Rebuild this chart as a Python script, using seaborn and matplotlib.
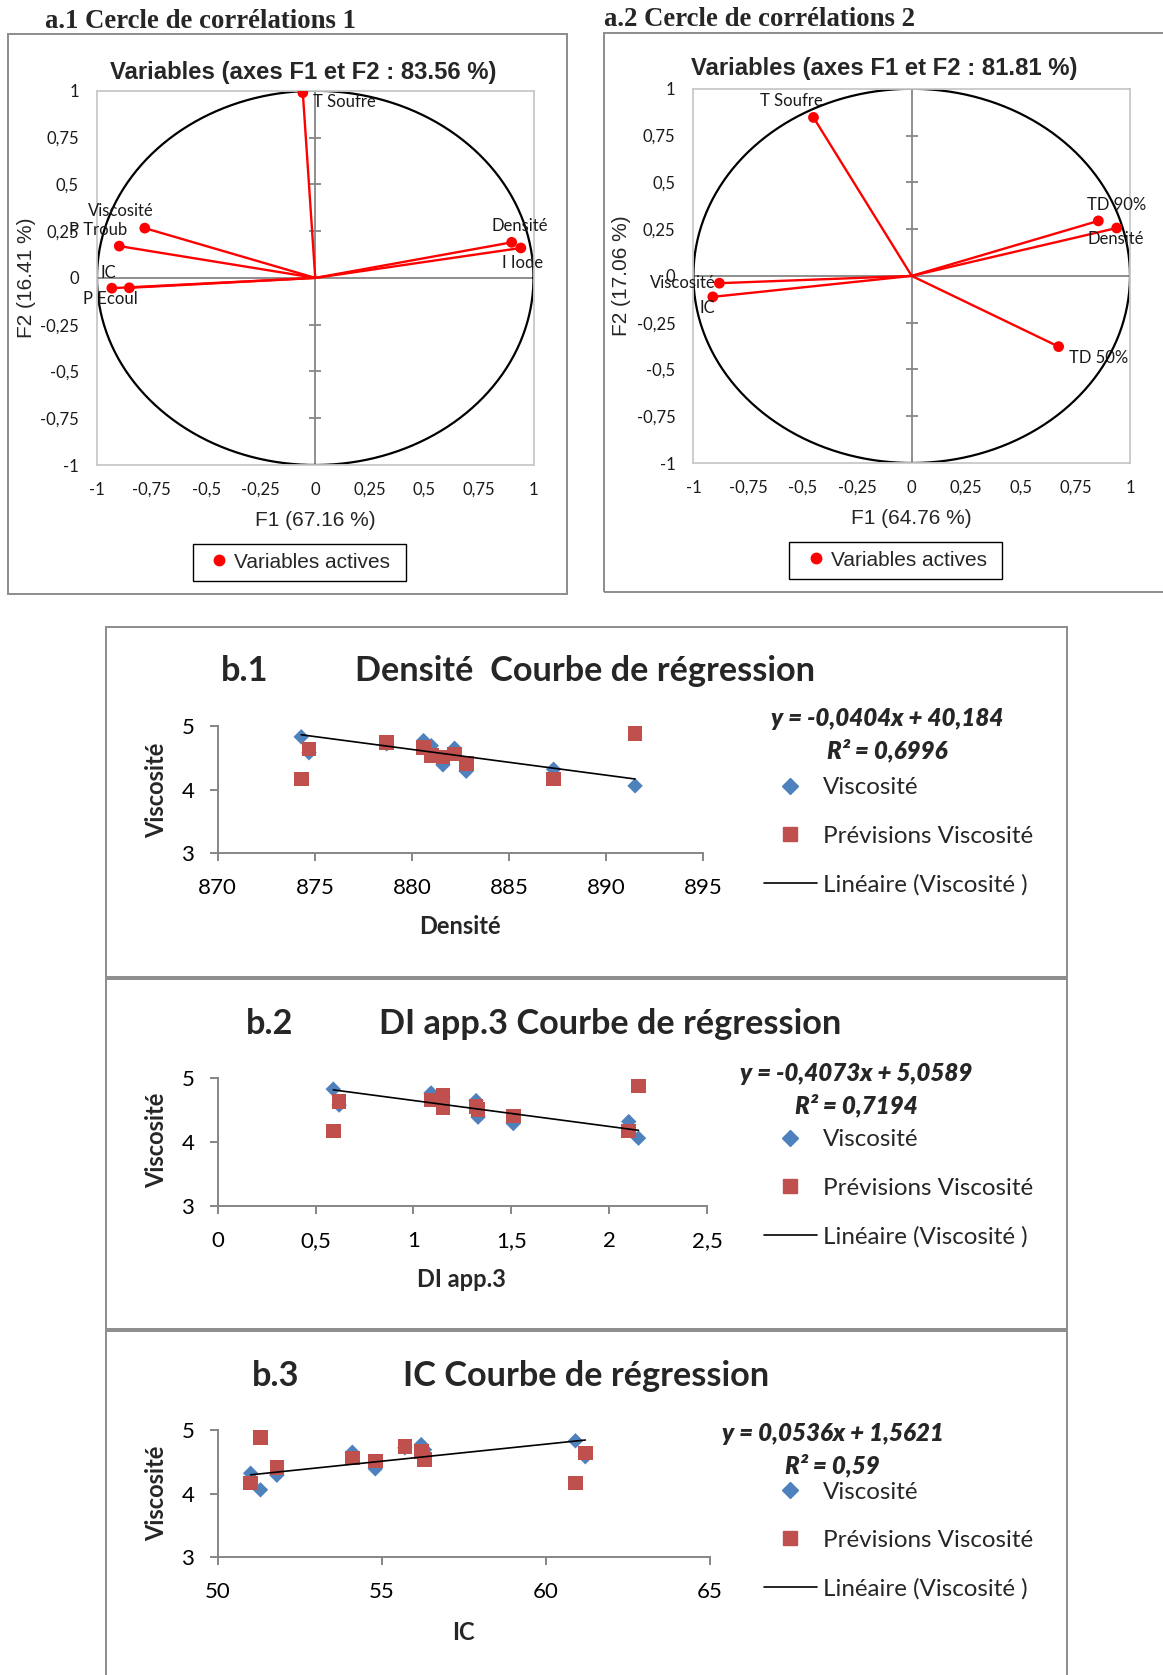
import numpy as np
import matplotlib
matplotlib.use("Agg")
import matplotlib.pyplot as plt
from matplotlib.lines import Line2D
from matplotlib.patches import Rectangle
import seaborn as sns

# ---------------- data ----------------
# Correlation circle 1 (F1 x F2)
c1_vars = ["T Soufre", "Viscosité", "P Troub", "IC", "P Ecoul", "Densité", "I Iode"]
c1_f1 = [-0.057, -0.781, -0.898, -0.932, -0.852, 0.900, 0.942]
c1_f2 = [0.990, 0.266, 0.170, -0.055, -0.053, 0.190, 0.160]

# Correlation circle 2 (F1 x F2)
c2_vars = ["T Soufre", "TD 90%", "Densité", "Viscosité", "IC", "TD 50%"]
c2_f1 = [-0.450, 0.855, 0.939, -0.881, -0.911, 0.673]
c2_f2 = [0.847, 0.294, 0.256, -0.039, -0.112, -0.378]

# Samples used in the regressions
densite = [874.3, 874.7, 878.7, 880.6, 881.0, 881.6, 882.2, 882.8, 887.3, 891.5]
di_app3 = [0.59, 0.62, 1.15, 1.09, 1.15, 1.33, 1.32, 1.51, 2.10, 2.15]
ic = [60.9, 61.2, 55.7, 56.2, 56.3, 54.8, 54.1, 51.8, 51.0, 51.3]
viscosite = [4.83, 4.58, 4.72, 4.77, 4.69, 4.39, 4.65, 4.29, 4.32, 4.06]
previsions = [4.17, 4.64, 4.74, 4.66, 4.54, 4.51, 4.56, 4.41, 4.17, 4.88]

# Linear trendlines (slope, intercept, R²)
fit_densite = (-0.0404, 40.184, 0.6996)
fit_di = (-0.4073, 5.0589, 0.7194)
fit_ic = (0.0536, 1.5621, 0.59)

circle_ticks = [-1, -0.75, -0.5, -0.25, 0, 0.25, 0.5, 0.75, 1]
densite_ticks = [870, 875, 880, 885, 890, 895]
di_ticks = [0, 0.5, 1, 1.5, 2, 2.5]
ic_ticks = [50, 55, 60, 65]
visc_ticks = [3, 4, 5]

# ---------------- style ----------------
sns.set_style("white")
plt.rcParams["font.family"] = ["Lato", "DejaVu Sans"]
ARIAL = ["Liberation Sans", "DejaVu Sans"]
TIMES = ["Liberation Serif", "DejaVu Serif"]
BLUE = "#4F81BD"
RED_SQ = "#C0504D"
FRAME = "#8C8C8C"
AXIS_GRAY = "#868686"

W, H = 1163, 1675
fig = plt.figure(figsize=(W / 100, H / 100), dpi=100)
fig.patch.set_facecolor("white")


def fx(x):
    return x / W


def fy(y):
    return 1 - y / H


def add_ax(x0, y0, x1, y1):
    return fig.add_axes([x0 / W, 1 - y1 / H, (x1 - x0) / W, (y1 - y0) / H])


def box(x0, y0, x1, y1, color=FRAME, lw=1.4):
    fig.add_artist(Rectangle((fx(x0), fy(y1)), (x1 - x0) / W, (y1 - y0) / H,
                             transform=fig.transFigure, fill=False,
                             edgecolor=color, linewidth=lw))


def fmt(v):
    return f"{v:g}".replace(".", ",")


def corr_circle(ax, names, f1, f2, label_pos, title, xlab, ylab,
                title_xy, xlab_xy, ylab_xy, legend_box, legend_anchor):
    ax.set_xlim(-1, 1)
    ax.set_ylim(-1, 1)
    for s in ax.spines.values():
        s.set_color("#C8C8C8")
        s.set_linewidth(1.3)
    ax.axhline(0, color=AXIS_GRAY, lw=1.3, zorder=1)
    ax.axvline(0, color=AXIS_GRAY, lw=1.3, zorder=1)
    ax.hlines(circle_ticks, 0.486, 0.514, transform=ax.get_yaxis_transform(),
              color=AXIS_GRAY, lw=1.3, zorder=1)
    ax.set_xticks(circle_ticks)
    ax.set_yticks(circle_ticks)
    ax.set_xticklabels([fmt(t) for t in circle_ticks])
    ax.set_yticklabels([fmt(t) for t in circle_ticks])
    ax.tick_params(axis="both", length=0, labelsize=12, labelcolor="#1a1a1a")
    ax.tick_params(axis="x", pad=12)
    ax.tick_params(axis="y", pad=13)

    theta = np.linspace(0, 2 * np.pi, 500)
    ax.plot(np.cos(theta), np.sin(theta), color="black", lw=1.6, zorder=2)
    for x, y in zip(f1, f2):
        ax.plot([0, x], [0, y], color="red", lw=1.7, zorder=3)
    sns.scatterplot(x=f1, y=f2, color="red", s=60, edgecolor="none",
                    ax=ax, zorder=4, legend=False)
    for name, x, y, (dx, dy, ha) in zip(names, f1, f2, label_pos):
        ax.annotate(name, (x, y), xytext=(dx, -dy), textcoords="offset pixels",
                    ha=ha, va="center", fontsize=12, color="#1a1a1a", zorder=5)

    fig.text(fx(title_xy[0]), fy(title_xy[1]), title, ha="center", va="center",
             fontsize=17.2, fontweight="bold", family=ARIAL)
    ax.set_xlabel(xlab, fontsize=15, family=ARIAL, va="center")
    ax.xaxis.set_label_coords(fx(xlab_xy[0]), fy(xlab_xy[1]), transform=fig.transFigure)
    ax.set_ylabel(ylab, fontsize=15, family=ARIAL, va="center")
    ax.yaxis.set_label_coords(fx(ylab_xy[0]), fy(ylab_xy[1]), transform=fig.transFigure)

    box(*legend_box, color="black", lw=1.0)
    handle = Line2D([], [], marker="o", color="red", linestyle="none", markersize=7.5)
    ax.legend([handle], ["Variables actives"], loc="center left",
              bbox_to_anchor=(fx(legend_anchor[0]), fy(legend_anchor[1])),
              bbox_transform=fig.transFigure, frameon=False, borderpad=0,
              borderaxespad=0, handlelength=1.0, handletextpad=0.2,
              prop={"family": ARIAL, "size": 15})


def regression_panel(ax, xvals, ticks, xlab, fit, xlab_xy, ylab_xy,
                     eq_xy, r2_xy, legend_anchor):
    slope, intercept, r2 = fit
    sns.scatterplot(x=xvals, y=viscosite, marker="D", color=BLUE, s=62,
                    edgecolor="none", ax=ax, zorder=3, legend=False)
    sns.scatterplot(x=xvals, y=previsions, marker="s", color=RED_SQ, s=110,
                    edgecolor="none", ax=ax, zorder=4, legend=False)
    xs = np.array([min(xvals), max(xvals)])
    ax.plot(xs, intercept + slope * xs, color="black", lw=1.2, zorder=5)

    ax.set_xlim(ticks[0], ticks[-1])
    ax.set_ylim(visc_ticks[0], visc_ticks[-1])
    ax.set_xticks(ticks)
    ax.set_xticklabels([fmt(t) for t in ticks])
    ax.set_yticks(visc_ticks)
    ax.set_yticklabels([fmt(t) for t in visc_ticks])
    for side in ("top", "right"):
        ax.spines[side].set_visible(False)
    for side in ("left", "bottom"):
        ax.spines[side].set_color(AXIS_GRAY)
        ax.spines[side].set_linewidth(1.4)
    ax.tick_params(axis="both", direction="out", length=6, width=1.4,
                   color=AXIS_GRAY, labelsize=16, labelcolor="black")
    ax.tick_params(axis="x", pad=12, bottom=True)
    ax.tick_params(axis="y", pad=11, left=True)
    ax.set_xlabel(xlab, fontsize=17, fontweight="bold", va="center")
    ax.xaxis.set_label_coords(fx(xlab_xy[0]), fy(xlab_xy[1]), transform=fig.transFigure)
    ax.set_ylabel("Viscosité", fontsize=17, fontweight="bold", va="center")
    ax.yaxis.set_label_coords(fx(ylab_xy[0]), fy(ylab_xy[1]), transform=fig.transFigure)

    sign = "-" if slope < 0 else ""
    eq = f"y = {sign}{fmt(abs(slope))}x + {fmt(intercept)}"
    fig.text(fx(eq_xy[0]), fy(eq_xy[1]), eq, ha="center", va="center",
             fontsize=17.4, fontweight="heavy", fontstyle="italic")
    fig.text(fx(r2_xy[0]), fy(r2_xy[1]), f"R² = {fmt(r2)}", ha="center",
             va="center", fontsize=17.4, fontweight="heavy", fontstyle="italic")

    handles = [
        Line2D([], [], marker="D", color=BLUE, linestyle="none", markersize=7.8),
        Line2D([], [], marker="s", color=RED_SQ, linestyle="none", markersize=10.5),
        Line2D([], [], color="black", lw=1.2),
    ]
    labels = ["Viscosité", "Prévisions Viscosité", "Linéaire (Viscosité )"]
    ax.legend(handles, labels, loc="center left",
              bbox_to_anchor=(fx(legend_anchor[0]), fy(legend_anchor[1])),
              bbox_transform=fig.transFigure, frameon=False, borderpad=0,
              borderaxespad=0, handlelength=2.18, handletextpad=0.25,
              labelspacing=1.13, prop={"size": 17.4})


def panel_title(tag, tag_x, text, text_x, y):
    fig.text(fx(tag_x), fy(y), tag, ha="left", va="center", fontsize=24.7,
             fontweight="bold")
    fig.text(fx(text_x), fy(y), text, ha="left", va="center", fontsize=24.7,
             fontweight="bold")


# ---------------- a.1 ----------------
fig.text(fx(45), fy(22), "a.1 Cercle de corrélations 1", ha="left", va="center",
         fontsize=19.3, fontweight="bold", family=TIMES)
box(7.5, 34, 567, 594)
ax1 = add_ax(97, 90.8, 533.5, 465)
corr_circle(
    ax1, c1_vars, c1_f1, c1_f2,
    [(10, 9, "left"), (-24, -17, "center"), (-21, -16, "center"),
     (-4, -15, "center"), (-19, 11, "center"), (8, -16, "center"),
     (2, 15, "center")],
    "Variables (axes F1 et F2 : 83.56 %)", "F1 (67.16 %)", "F2 (16.41 %)",
    (303, 72.5), (315, 520), (26, 278),
    (193.3, 543.6, 405.8, 581), (209, 562))

# ---------------- a.2 ----------------
fig.text(fx(604), fy(20), "a.2 Cercle de corrélations 2", ha="left", va="center",
         fontsize=19.3, fontweight="bold", family=TIMES)
box(604, 33, 1200, 592)
ax2 = add_ax(693.4, 88.8, 1130, 463)
corr_circle(
    ax2, c2_vars, c2_f1, c2_f2,
    [(-22, -16, "center"), (18, -16, "center"), (-1, 11, "center"),
     (-4, 0, "right"), (-6, 11, "center"), (10, 11, "left")],
    "Variables (axes F1 et F2 : 81.81 %)", "F1 (64.76 %)", "F2 (17.06 %)",
    (884, 68.5), (911, 518), (621.6, 275.5),
    (789, 541.5, 1001.8, 579), (806, 560))

# ---------------- b.1 ----------------
box(105.7, 627, 1066.5, 976.5)
panel_title("b.1", 221, "Densité  Courbe de régression", 355, 671)
axb1 = add_ax(217.8, 726, 703, 853.3)
regression_panel(axb1, densite, densite_ticks, "Densité", fit_densite,
                 (460, 927), (157, 790), (887, 718.5), (887, 750), (764, 836.5))

# ---------------- b.2 ----------------
box(105.7, 978.5, 1066.5, 1328.5)
panel_title("b.2", 246, "DI app.3 Courbe de régression", 379, 1024)
axb2 = add_ax(217.8, 1078.3, 707, 1205.7)
regression_panel(axb2, di_app3, di_ticks, "DI app.3", fit_di,
                 (461, 1279.5), (157, 1140.6), (856, 1073.3), (856, 1105.7), (764, 1188.5))

# ---------------- b.3 ----------------
box(105.7, 1330.5, 1066.5, 1700)
panel_title("b.3", 252, "IC Courbe de régression", 403, 1376.5)
axb3 = add_ax(217.8, 1430, 710, 1557.3)
regression_panel(axb3, ic, ic_ticks, "IC", fit_ic,
                 (463.5, 1632), (157, 1493), (833, 1433.3), (832.5, 1465), (764, 1540.7))

fig.savefig("out.png", dpi=100, facecolor="white")
